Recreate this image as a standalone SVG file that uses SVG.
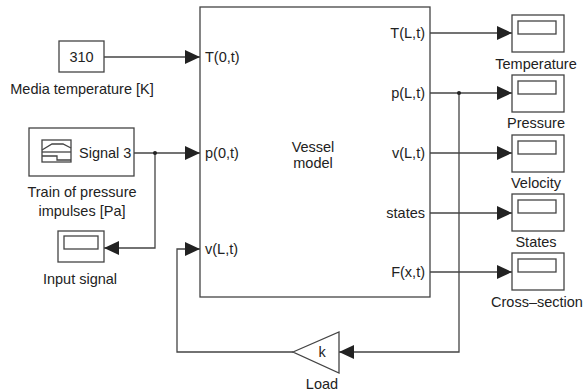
<svg xmlns="http://www.w3.org/2000/svg" width="587" height="392" viewBox="0 0 587 392">
<style>
text{font-family:"Liberation Sans",Arial,sans-serif;font-size:14.5px;fill:#222}
.blk{fill:#fff;stroke:#444;stroke-width:1.3}
.ln{fill:none;stroke:#444;stroke-width:1.3}
.m{text-anchor:middle}
.e{text-anchor:end}
</style>
<defs>
<marker id="ah" viewBox="0 0 15 14" refX="15" refY="7" markerWidth="15" markerHeight="14" markerUnits="userSpaceOnUse" orient="auto">
<path d="M0,0 L15,7 L0,14 z" fill="#222"/>
</marker>
</defs>
<g id="connectors" class="ln">
<path d="M104,57 H200" marker-end="url(#ah)"/>
<path d="M134,153 H200" marker-end="url(#ah)"/>
<path d="M155,153 V248 H104" marker-end="url(#ah)"/>
<path d="M430,33 H512" marker-end="url(#ah)"/>
<path d="M430,93 H512" marker-end="url(#ah)"/>
<path d="M430,153 H512" marker-end="url(#ah)"/>
<path d="M430,213 H512" marker-end="url(#ah)"/>
<path d="M430,272 H512" marker-end="url(#ah)"/>
<path d="M459,93 V352 H339" marker-end="url(#ah)"/>
<path d="M293,352 H177 V249 H200" marker-end="url(#ah)"/>
<circle cx="155" cy="153" r="2" fill="#222" stroke="none"/>
<circle cx="459" cy="93" r="2" fill="#222" stroke="none"/>
</g>
<g id="const310">
<rect class="blk" x="59" y="41" width="45" height="31"/>
<text class="m" x="81.5" y="62">310</text>
<text class="m" x="82" y="94">Media temperature [K]</text>
</g>
<g id="signal">
<rect class="blk" x="29" y="128" width="105" height="48"/>
<rect class="blk" x="42" y="140" width="29" height="22" stroke-width="1"/>
<polyline class="ln" stroke-width="1" points="42,150 52,144 63,144 71,148"/>
<line class="ln" stroke-width="1" x1="42" y1="152" x2="71" y2="152"/>
<polyline class="ln" stroke-width="1" points="42,156 57,156 57,160 71,160"/>
<text x="79" y="158">Signal 3</text>
<text class="m" x="82" y="197">Train of pressure</text>
<text class="m" x="82" y="216">impulses [Pa]</text>
</g>
<g id="inputScope">
<rect class="blk" x="58" y="231" width="46" height="31"/>
<rect class="blk" x="64" y="236" width="34" height="13"/>
<text class="m" x="80" y="284">Input signal</text>
</g>
<g id="vessel">
<rect class="blk" x="200" y="7" width="230" height="290"/>
<text x="205" y="62">T(0,t)</text>
<text x="205" y="158">p(0,t)</text>
<text x="205" y="254">v(L,t)</text>
<text class="m" x="313" y="152">Vessel</text>
<text class="m" x="313" y="168">model</text>
<text class="e" x="425" y="38">T(L,t)</text>
<text class="e" x="425" y="98">p(L,t)</text>
<text class="e" x="425" y="158">v(L,t)</text>
<text class="e" x="425" y="218">states</text>
<text class="e" x="425" y="277">F(x,t)</text>
</g>
<g id="scopeTemperature">
<rect class="blk" x="512" y="15" width="52" height="37"/>
<rect class="blk" x="518" y="21" width="38" height="13"/>
<text class="m" x="536" y="69">Temperature</text>
</g>
<g id="scopePressure">
<rect class="blk" x="512" y="75" width="52" height="37"/>
<rect class="blk" x="518" y="81" width="38" height="13"/>
<text class="m" x="536" y="128">Pressure</text>
</g>
<g id="scopeVelocity">
<rect class="blk" x="512" y="135" width="52" height="37"/>
<rect class="blk" x="518" y="141" width="38" height="13"/>
<text class="m" x="536" y="188">Velocity</text>
</g>
<g id="scopeStates">
<rect class="blk" x="512" y="194" width="52" height="37"/>
<rect class="blk" x="518" y="200" width="38" height="13"/>
<text class="m" x="536" y="247">States</text>
</g>
<g id="scopeCross">
<rect class="blk" x="512" y="253" width="52" height="37"/>
<rect class="blk" x="518" y="259" width="38" height="13"/>
<text class="m" x="537" y="307">Cross–section</text>
</g>
<g id="load">
<polygon class="blk" points="293,352 339,332 339,373"/>
<text class="m" x="322" y="357">k</text>
<text class="m" x="322" y="389">Load</text>
</g>
</svg>
